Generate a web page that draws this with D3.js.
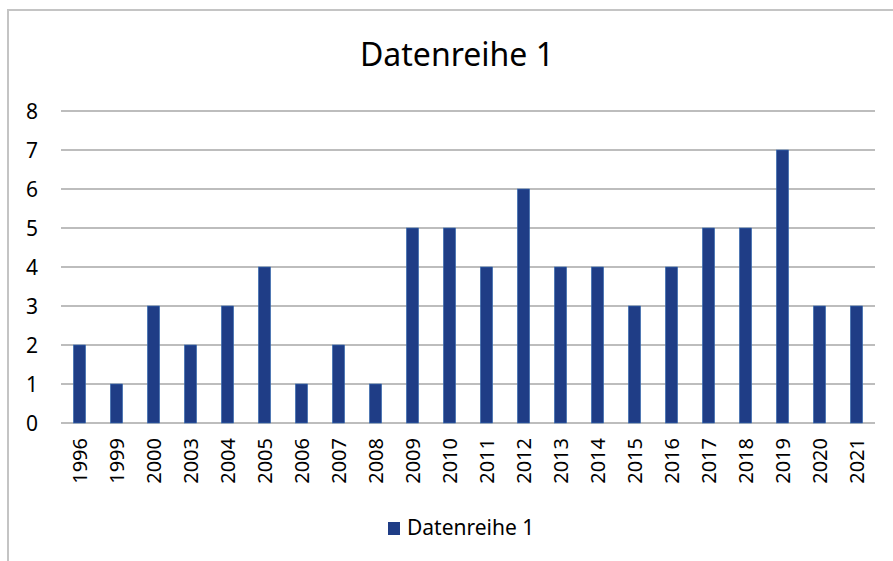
<!DOCTYPE html>
<html>
<head>
<meta charset="utf-8">
<script src="https://cdn.jsdelivr.net/npm/d3@7"></script>
<style>
  html, body { margin: 0; padding: 0; background: #fff; }
  svg { display: block; }
  text { font-family: "Noto Sans", "Open Sans", sans-serif; fill: #000; }
</style>
</head>
<body>
<svg id="chart" width="893" height="561"></svg>
<script>
const title = "Datenreihe 1";
const seriesName = "Datenreihe 1";
const categories = ["1996","1999","2000","2003","2004","2005","2006","2007","2008","2009","2010","2011","2012","2013","2014","2015","2016","2017","2018","2019","2020","2021"];
const values = [2,1,3,2,3,4,1,2,1,5,5,4,6,4,4,3,4,5,5,7,3,3];
const yTicks = [0,1,2,3,4,5,6,7,8];

const svg = d3.select("#chart");
const barColor = "#1f3d86";
const gridColor = "#bdbdbd";

// outer chart border (top and left visible)
svg.append("path")
  .attr("d", "M8,561 L8,10 L893,10")
  .attr("fill", "none")
  .attr("stroke", "#c4c4c4")
  .attr("stroke-width", 2);

const x = d3.scaleBand()
  .domain(categories)
  .range([61, 875])
  .paddingInner(0.67)
  .paddingOuter(0.335);

const y = d3.scaleLinear().domain([0, 8]).range([423, 111]);

// gridlines
svg.append("g").selectAll("line")
  .data(yTicks)
  .join("line")
  .attr("x1", 61).attr("x2", 875)
  .attr("y1", d => y(d)).attr("y2", d => y(d))
  .attr("stroke", gridColor)
  .attr("stroke-width", 2);

// y labels
svg.append("g").selectAll("text")
  .data(yTicks)
  .join("text")
  .attr("x", 38)
  .attr("y", d => y(d))
  .attr("text-anchor", "end")
  .attr("dominant-baseline", "central")
  .attr("font-size", 21)
  .text(d => d);

// bars
svg.append("g").selectAll("rect")
  .data(values)
  .join("rect")
  .attr("x", (d, i) => x(categories[i]))
  .attr("width", x.bandwidth())
  .attr("y", d => y(d))
  .attr("height", d => y(0) - y(d))
  .attr("fill", barColor)
  .attr("stroke", "#3a6fb5")
  .attr("stroke-width", 0.6);

// x labels (rotated)
svg.append("g").selectAll("text")
  .data(categories)
  .join("text")
  .attr("transform", d => `translate(${x(d) + x.bandwidth() / 2},438) rotate(-90)`)
  .attr("text-anchor", "end")
  .attr("dominant-baseline", "central")
  .attr("font-size", 20)
  .text(d => d);

// title
svg.append("text")
  .attr("x", 457)
  .attr("y", 66)
  .attr("text-anchor", "middle")
  .attr("font-size", 32)
  .text(title);

// legend
svg.append("rect")
  .attr("x", 388).attr("y", 522)
  .attr("width", 12).attr("height", 13)
  .attr("fill", barColor);
svg.append("text")
  .attr("x", 407)
  .attr("y", 535)
  .attr("font-size", 21)
  .text(seriesName);
</script>
</body>
</html>
